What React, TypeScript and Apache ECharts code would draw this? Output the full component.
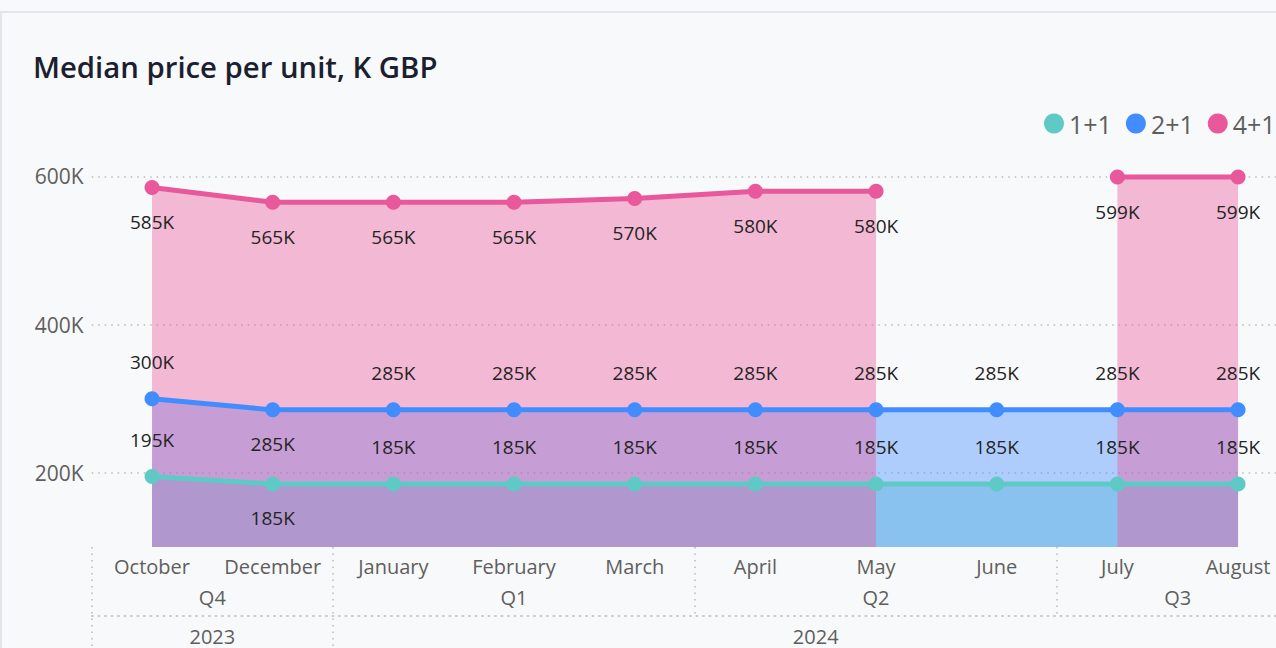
import React, { useEffect, useRef } from "react";
import * as echarts from "echarts";

const months = ["October", "December", "January", "February", "March", "April", "May", "June", "July", "August"];
const quarters = ["Q4", "Q4", "Q1", "Q1", "Q1", "Q2", "Q2", "Q2", "Q3", "Q3"];
const years = ["2023", "2023", "2024", "2024", "2024", "2024", "2024", "2024", "2024", "2024"];
const seriesNames = ["1+1", "2+1", "4+1"];
const values11 = [195000, 185000, 185000, 185000, 185000, 185000, 185000, 185000, 185000, 185000];
const values21 = [300000, 285000, 285000, 285000, 285000, 285000, 285000, 285000, 285000, 285000];
const values41 = [585000, 565000, 565000, 565000, 570000, 580000, 580000, null, 599000, 599000];
const yTicks = [200000, 400000, 600000];
const yMin = 100000;
const yMax = 650000;

const FONT = "'Segoe UI', 'Open Sans', sans-serif";
const AXIS_COLOR = "#605E5C";
const LABEL_COLOR = "#252423";
const DOT = { color: "#BDBBB9", width: 1.5, type: [1.5, 5] as number[] };

type Group = { label: string; start: number; end: number };
function groupsOf(labels: string[]): Group[] {
  const out: Group[] = [];
  labels.forEach((l, i) => {
    const last = out[out.length - 1];
    if (last && last.label === l) last.end = i;
    else out.push({ label: l, start: i, end: i });
  });
  return out;
}

const seriesDefs = [
  { name: seriesNames[0], values: values11, color: "#5FCAC5", pos: "top", flip: [1] },
  { name: seriesNames[1], values: values21, color: "#418DFF", pos: "top", flip: [1] },
  { name: seriesNames[2], values: values41, color: "#E8589A", pos: "bottom", flip: [] as number[] },
];

export default function App() {
  const ref = useRef<HTMLDivElement>(null);
  useEffect(() => {
    if (!ref.current) return;
    const chart = echarts.init(ref.current, undefined, { renderer: "svg" });
    const qGroups = groupsOf(quarters);
    const yGroups = groupsOf(years);
    const yearBounds = yGroups.map((g) => g.start - 0.5);
    const quarterBounds = qGroups.map((g) => g.start - 0.5).filter((b) => !yearBounds.includes(b));
    const center = (g: Group) => (g.start + g.end) / 2;
    const lookup = (gs: Group[]) => (v: number) => {
      const g = gs.find((x) => Math.abs(center(x) - v) < 1e-6);
      return g ? g.label : "";
    };
    const valueAxisBase = {
      type: "value",
      min: -0.5,
      max: months.length - 0.5,
      position: "bottom",
      splitLine: { show: false },
      axisLine: { show: false },
    };
    const option: any = {
      animation: false,
      backgroundColor: "#F8F9FB",
      textStyle: { fontFamily: FONT },
      graphic: [
        {
          type: "rect",
          z: -10,
          silent: true,
          shape: { x: 1, y: 12, width: 1400, height: 800 },
          style: { fill: "#F8F9FB", stroke: "#E3E5E8", lineWidth: 2 },
        },
      ],
      title: {
        text: "Median price per unit, K GBP",
        left: 33,
        top: 52,
        padding: 0,
        textStyle: { fontSize: 29.3, fontWeight: 600, color: "#1B2030", fontFamily: FONT },
      },
      legend: {
        data: seriesNames,
        left: 1044,
        top: 111,
        padding: 0,
        icon: "circle",
        itemWidth: 20,
        itemHeight: 20,
        itemGap: 14,
        textStyle: { fontSize: 25, color: AXIS_COLOR, fontFamily: FONT },
      },
      grid: {
        left: 91.7,
        width: 1206.7,
        top: 139.3,
        bottom: 101,
        containLabel: false,
        outerBoundsMode: "none",
      },
      xAxis: [
        {
          type: "category",
          data: months,
          boundaryGap: true,
          axisLine: { show: false },
          axisTick: { show: false },
          splitLine: { show: false },
          axisLabel: { fontSize: 20, color: AXIS_COLOR, margin: 9, fontFamily: FONT, interval: 0 },
        },
        {
          ...valueAxisBase,
          axisTick: { show: true, customValues: quarterBounds, length: 69, lineStyle: DOT },
          axisLabel: {
            customValues: qGroups.map(center),
            formatter: lookup(qGroups),
            fontSize: 20,
            color: AXIS_COLOR,
            margin: 40,
            fontFamily: FONT,
          },
        },
        {
          ...valueAxisBase,
          axisTick: { show: true, customValues: yearBounds, length: 101, lineStyle: DOT },
          axisLabel: {
            customValues: yGroups.map(center),
            formatter: lookup(yGroups),
            fontSize: 20,
            color: AXIS_COLOR,
            margin: 79,
            fontFamily: FONT,
          },
        },
        {
          ...valueAxisBase,
          offset: 69,
          axisLine: { show: true, lineStyle: DOT },
          axisTick: { show: false },
          axisLabel: { show: false },
        },
      ],
      yAxis: {
        type: "value",
        min: yMin,
        max: yMax,
        axisLine: { show: false },
        axisTick: { show: false, customValues: yTicks },
        splitLine: { show: true, lineStyle: DOT },
        axisLabel: {
          customValues: yTicks,
          formatter: (v: number) => `${v / 1000}K`,
          fontSize: 21,
          color: AXIS_COLOR,
          margin: 8,
          fontFamily: FONT,
        },
      },
      series: seriesDefs.map((s) => ({
        name: s.name,
        type: "line",
        xAxisIndex: 0,
        yAxisIndex: 0,
        symbol: "circle",
        symbolSize: 15,
        showSymbol: true,
        connectNulls: false,
        color: s.color,
        lineStyle: { width: 5, color: s.color },
        itemStyle: { color: s.color },
        areaStyle: { color: s.color, opacity: 0.4, origin: "start" },
        emphasis: { disabled: true },
        data: s.values.map((v, i) => {
          if (v == null) return null;
          const position = s.flip.includes(i) ? (s.pos === "top" ? "bottom" : "top") : s.pos;
          return {
            value: v,
            label: { position, distance: position === "top" ? 19.5 : 17.5 },
          };
        }),
        label: {
          show: true,
          fontSize: 19,
          color: LABEL_COLOR,
          fontFamily: FONT,
          formatter: (p: any) => `${Math.round(p.value / 1000)}K`,
        },
      })),
    };
    chart.setOption(option);
    return () => chart.dispose();
  }, []);
  return (
    <div
      ref={ref}
      style={{ position: "fixed", left: 0, top: 0, width: 1276, height: 648, background: "#F8F9FB" }}
    />
  );
}
